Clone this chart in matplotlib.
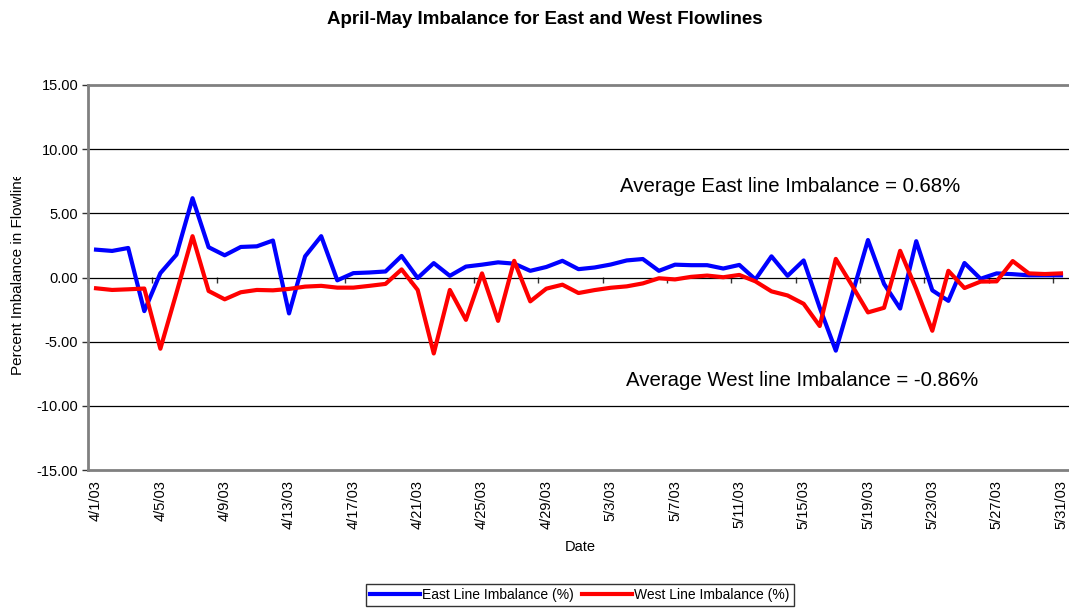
import matplotlib
matplotlib.use('agg')
import matplotlib.pyplot as plt
import numpy as np
import pandas as pd
from matplotlib.transforms import Bbox, TransformedBbox

plt.rcParams['font.family'] = ['Liberation Sans', 'DejaVu Sans']

# daily imbalance, 4/1/03 .. 5/31/03
dates = pd.date_range('2003-04-01', '2003-05-31', freq='D')
east = [2.17, 2.07, 2.30, -2.62, 0.34, 1.78, 6.18, 2.36, 1.73, 2.38,
        2.43, 2.88, -2.80, 1.65, 3.22, -0.22, 0.34, 0.39, 0.47, 1.68,
        -0.04, 1.12, 0.13, 0.85, 1.00, 1.18, 1.08, 0.52, 0.82, 1.30,
        0.65, 0.78, 1.01, 1.33, 1.44, 0.52, 1.00, 0.96, 0.96, 0.70,
        0.98, -0.15, 1.65, 0.13, 1.33, -2.35, -5.70, -1.40, 2.92, -0.50,
        -2.42, 2.83, -1.00, -1.82, 1.13, -0.10, 0.32, 0.26, 0.17, 0.17,
        0.17]
west = [-0.84, -0.97, -0.92, -0.86, -5.55, -1.20, 3.22, -1.05, -1.70, -1.15,
        -0.97, -1.00, -0.89, -0.71, -0.65, -0.79, -0.79, -0.65, -0.50, 0.63,
        -0.97, -5.92, -0.97, -3.30, 0.32, -3.38, 1.30, -1.86, -0.87, -0.56,
        -1.21, -0.98, -0.80, -0.69, -0.46, -0.06, -0.15, 0.05, 0.15, 0.02,
        0.20, -0.30, -1.08, -1.40, -2.05, -3.78, 1.45, -0.60, -2.72, -2.36,
        2.08, -0.90, -4.15, 0.52, -0.82, -0.32, -0.30, 1.28, 0.32, 0.27,
        0.32]
east_avg = 0.68
west_avg = -0.86
y_ticks = [-15, -10, -5, 0, 5, 10, 15]

labels = ['{}/{}/03'.format(d.month, d.day) for d in dates]
x = np.arange(len(dates))

fig = plt.figure(figsize=(10.69, 6.10), dpi=100)
ax = fig.add_axes([88 / 1069, 140 / 610, 981 / 1069, 385 / 610])

ax.plot(x, east, color='#0000ff', lw=3, label='East Line Imbalance (%)', zorder=3)
ax.plot(x, west, color='#ff0000', lw=3, label='West Line Imbalance (%)', zorder=3)

ax.set_xlim(-0.5, len(x) - 0.5)
ax.set_ylim(-15, 15)
ax.set_yticks(y_ticks)
ax.set_yticklabels(['{:.2f}'.format(v) for v in y_ticks], fontsize=10.5)
ax.tick_params(axis='y', length=4, width=1, color='#333333', pad=3)
for v in y_ticks[1:-1]:
    ax.axhline(v, color='black', lw=0.9, zorder=1)

ax.set_xticks(x[::4])
ax.set_xticklabels(labels[::4], rotation=90, fontsize=10.5)
ax.tick_params(axis='x', length=0, pad=7)

# category axis crosses at zero, ticks between categories
sec = ax.secondary_xaxis(0.5)
sec.set_xticks(np.arange(-0.5, len(x), 4))
sec.set_xticklabels([])
sec.tick_params(axis='x', length=4, width=1, color='#333333', direction='in')
for side in sec.spines:
    sec.spines[side].set_visible(False)

for side in ['left', 'top', 'bottom']:
    ax.spines[side].set_color('#808080')
    ax.spines[side].set_linewidth(2)
ax.spines['right'].set_visible(False)

fig.text(545 / 1069, 1 - 20 / 610, 'April-May Imbalance for East and West Flowlines',
         ha='center', va='center', fontsize=13.5, fontweight='bold')
fig.text(580 / 1069, 1 - 547 / 610, 'Date', ha='center', va='center', fontsize=10.5)

ylab = fig.text(18 / 1069, 1 - 375 / 610, 'Percent Imbalance in Flowlines',
                rotation=90, ha='center', va='bottom', fontsize=11)
ylab.set_clip_box(TransformedBbox(Bbox([[0, 0], [1, 1 - 177 / 610]]), fig.transFigure))
ylab.set_clip_on(True)

fig.text(790 / 1069, 1 - 187 / 610,
         'Average East line Imbalance = {:.2f}%'.format(east_avg),
         ha='center', va='center', fontsize=14.7)
fig.text(802 / 1069, 1 - 380 / 610,
         'Average West line Imbalance = {:.2f}%'.format(west_avg),
         ha='center', va='center', fontsize=14.7)

leg = fig.legend(loc='center', bbox_to_anchor=(580 / 1069, 1 - 595 / 610), ncol=2,
                 fontsize=10, handlelength=3.6, handletextpad=0.15, columnspacing=0.6,
                 borderpad=0.3, fancybox=False, frameon=True)
leg.get_frame().set_edgecolor('black')
leg.get_frame().set_linewidth(1)

plt.savefig('out.png', dpi=100)
